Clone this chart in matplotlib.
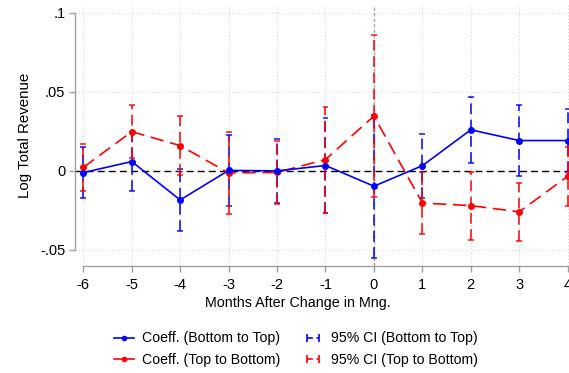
import matplotlib.pyplot as plt
from matplotlib.lines import Line2D
from matplotlib.legend_handler import HandlerLine2D

plt.rcParams['font.family'] = ['Liberation Sans', 'DejaVu Sans']

# data
months = [-6, -5, -4, -3, -2, -1, 0, 1, 2, 3, 4]
coef_bt = [-0.0011, 0.0059, -0.0184, 0.0003, 0.0000, 0.0034, -0.0097, 0.0033, 0.0260, 0.0192, 0.0192]
lo_bt = [-0.0169, -0.0125, -0.0378, -0.0220, -0.0203, -0.0269, -0.0549, -0.0169, 0.0053, -0.0032, -0.0006]
hi_bt = [0.0148, 0.0243, 0.0010, 0.0226, 0.0203, 0.0337, 0.0355, 0.0234, 0.0466, 0.0416, 0.0390]
coef_tb = [0.0022, 0.0248, 0.0160, -0.0013, -0.0010, 0.0072, 0.0347, -0.0203, -0.0220, -0.0259, -0.0034]
lo_tb = [-0.0125, 0.0080, -0.0027, -0.0270, -0.0211, -0.0264, -0.0166, -0.0401, -0.0437, -0.0443, -0.0222]
hi_tb = [0.0169, 0.0418, 0.0348, 0.0245, 0.0188, 0.0407, 0.0861, -0.0005, -0.0004, -0.0074, 0.0154]

yticks = [-0.05, 0, 0.05, 0.1]
ytick_labels = ['-.05', '0', '.05', '.1']

blue = '#0000ff'
red = '#ff0000'
gray = '#a0a0a0'

fig = plt.figure(figsize=(5.69, 3.73), dpi=100)
ax = fig.add_axes([0.1318, 0.2877, 0.8682, 0.699])

# grid
for y in [-0.05, 0.05, 0.1]:
    ax.axhline(y, color='#d6d6d6', lw=0.8, ls=(0, (1, 2)), zorder=0)
for x in months:
    if x != 0:
        ax.axvline(x, color='#d6d6d6', lw=0.8, ls=(0, (1, 2)), zorder=0)
ax.axvline(0, color='#a8a8a8', lw=1.0, ls=(0, (2.5, 1.5)), zorder=0.5)
ax.axhline(0, color='black', lw=1.0, ls=(0, (5, 3)), zorder=1)

# confidence intervals
for lo, hi, c in [(lo_bt, hi_bt, blue), (lo_tb, hi_tb, red)]:
    ax.vlines(months, lo, hi, colors=c, lw=1.3, linestyles=(0, (6, 3)), alpha=0.85, zorder=2)
    ax.hlines(lo, [m - 0.06 for m in months], [m + 0.06 for m in months], colors=c, lw=1.2, alpha=0.85, zorder=2)
    ax.hlines(hi, [m - 0.06 for m in months], [m + 0.06 for m in months], colors=c, lw=1.2, alpha=0.85, zorder=2)

# coefficients
ax.plot(months, coef_tb, color=red, lw=1.2, ls=(0, (8, 4)), marker='o', ms=4, zorder=3)
ax.plot(months, coef_bt, color=blue, lw=1.2, marker='o', ms=4, zorder=4)

ax.set_xlim(-6.171, 4.027)
ax.set_ylim(-0.06, 0.105)
ax.set_xticks(months)
ax.set_xticklabels([str(m) for m in months])
ax.set_yticks(yticks)
ax.set_yticklabels(ytick_labels)

for s in ['top', 'right']:
    ax.spines[s].set_visible(False)
ax.spines['left'].set_bounds(-0.05, 0.1)
ax.spines['bottom'].set_bounds(-6, 4)
for s in ['left', 'bottom']:
    ax.spines[s].set_color(gray)
    ax.spines[s].set_linewidth(1.0)
ax.tick_params(colors=gray, length=4, width=1.0, labelcolor='black', labelsize=10.5)
ax.tick_params(axis='x', pad=5)
ax.tick_params(axis='y', pad=3)

ax.set_ylabel('Log Total Revenue', fontsize=10.8, labelpad=6)
fig.text(298 / 569, 1 - 303 / 373, 'Months After Change in Mng.', fontsize=10.3,
         ha='center', va='center')

h1 = Line2D([], [], color=blue, lw=1.2, marker='o', ms=3)
h2 = Line2D([], [], color=red, lw=1.2, marker='o', ms=3)
h3 = Line2D([], [], color=blue, lw=1.2, ls=(0, (3.5, 2.2)), marker='|', ms=6, mew=1.2)
h4 = Line2D([], [], color=red, lw=1.2, ls=(0, (3.5, 2.2)), marker='|', ms=6, mew=1.2)
fig.legend([h1, h2, h3, h4],
           ['Coeff. (Bottom to Top)', 'Coeff. (Top to Bottom)',
            '95% CI (Bottom to Top)', '95% CI (Top to Bottom)'],
           loc='center', bbox_to_anchor=(296 / 569, 1 - 349 / 373), ncol=2,
           frameon=False, fontsize=10.2, handlelength=1.4, handletextpad=0.55,
           columnspacing=1.6, labelspacing=0.5, numpoints=1,
           handler_map={h3: HandlerLine2D(numpoints=2), h4: HandlerLine2D(numpoints=2)})

fig.savefig('out.png', dpi=100)
